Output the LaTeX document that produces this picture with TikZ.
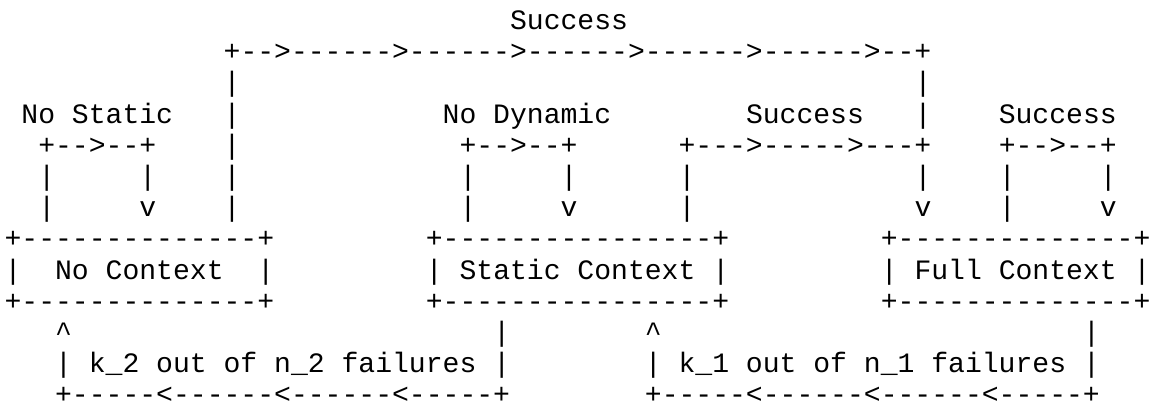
\documentclass[tikz,border=0pt]{standalone}
\usepackage{fontspec}
\setmonofont{Liberation Mono}
\tikzset{
  txt/.style={anchor=base west, inner sep=0pt, outer sep=0pt, text=black,
    text depth=0pt, font=\ttfamily\fontsize{28.08pt}{32pt}\selectfont}
}
% \place{name}{column}{row}{text}
\newcommand\place[4]{\node[txt] (#1) at ({(4.6+#2*16.85)*1pt}, {-(123+31.2*(#3-4))*1pt}) {#4};}
\begin{document}
\begin{tikzpicture}
\useasboundingbox[fill=white] (0pt,0pt) rectangle (1149pt,-410pt);
% row 1
\place{succTop}{30}{1}{Success}
% row 2
\place{topArrow}{13}{2}{+-->------>------>------>------>------>--+}
% row 3
\place{vA3}{13}{3}{|}
\place{vB3}{54}{3}{|}
% row 4
\place{lblNoStatic}{1}{4}{No Static}
\place{vA4}{13}{4}{|}
\place{lblNoDynamic}{26}{4}{No Dynamic}
\place{lblSuccMid}{44}{4}{Success}
\place{vB4}{54}{4}{|}
\place{lblSuccRight}{59}{4}{Success}
% row 5
\place{loopNS}{2}{5}{+-->--+}
\place{vA5}{13}{5}{|}
\place{loopND}{27}{5}{+-->--+}
\place{arrowSF}{40}{5}{+--->----->---+}
\place{loopFC}{59}{5}{+-->--+}
% row 6
\place{r6a}{2}{6}{|}
\place{r6b}{8}{6}{|}
\place{r6c}{13}{6}{|}
\place{r6d}{27}{6}{|}
\place{r6e}{33}{6}{|}
\place{r6f}{40}{6}{|}
\place{r6g}{54}{6}{|}
\place{r6h}{59}{6}{|}
\place{r6i}{65}{6}{|}
% row 7
\place{r7a}{2}{7}{|}
\place{r7b}{8}{7}{v}
\place{r7c}{13}{7}{|}
\place{r7d}{27}{7}{|}
\place{r7e}{33}{7}{v}
\place{r7f}{40}{7}{|}
\place{r7g}{54}{7}{v}
\place{r7h}{59}{7}{|}
\place{r7i}{65}{7}{v}
% row 8 : box tops
\place{ncTop}{0}{8}{+--------------+}
\place{scTop}{25}{8}{+----------------+}
\place{fcTop}{52}{8}{+--------------+}
% row 9 : box texts
\place{ncL}{0}{9}{|}
\place{noContext}{3}{9}{No Context}
\place{ncR}{15}{9}{|}
\place{scL}{25}{9}{|}
\place{staticContext}{27}{9}{Static Context}
\place{scR}{42}{9}{|}
\place{fcL}{52}{9}{|}
\place{fullContext}{54}{9}{Full Context}
\place{fcR}{67}{9}{|}
% row 10 : box bottoms
\place{ncBot}{0}{10}{+--------------+}
\place{scBot}{25}{10}{+----------------+}
\place{fcBot}{52}{10}{+--------------+}
% row 11
\place{upA}{3}{11}{\textasciicircum}
\place{r11b}{29}{11}{|}
\place{upB}{38}{11}{\textasciicircum}
\place{r11d}{64}{11}{|}
% row 12
\place{r12a}{3}{12}{|}
\place{lblK2}{5}{12}{k\_2 out of n\_2 failures}
\place{r12b}{29}{12}{|}
\place{r12c}{38}{12}{|}
\place{lblK1}{40}{12}{k\_1 out of n\_1 failures}
\place{r12d}{64}{12}{|}
% row 13
\place{backA}{3}{13}{+-----<------<------<-----+}
\place{backB}{38}{13}{+-----<------<------<-----+}
\end{tikzpicture}
\end{document}
